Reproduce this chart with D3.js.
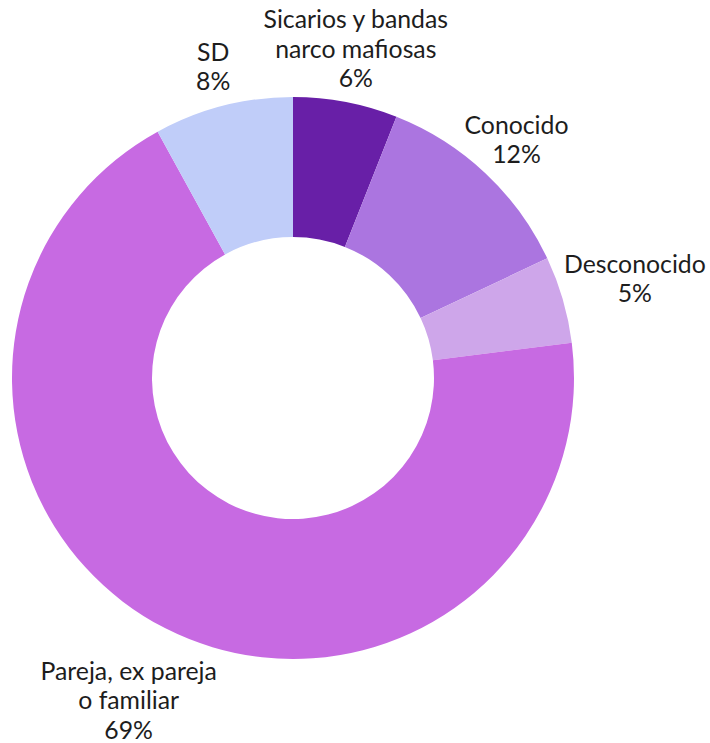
<!DOCTYPE html>
<html>
<head>
<meta charset="utf-8">
<script src="https://cdn.jsdelivr.net/npm/d3@7"></script>
<style>
  body { margin: 0; background: #fff; }
  svg { display: block; font-family: Lato, "Noto Sans", sans-serif; }
</style>
</head>
<body>
<svg width="710" height="743"></svg>
<script>
// chart data (clockwise from 12 o'clock)
const labels = [
    ["Sicarios y bandas", "narco mafiosas"],
    ["Conocido"],
    ["Desconocido"],
    ["Pareja, ex pareja", "o familiar"],
    ["SD"]
];
const values = [6, 12, 5, 69, 8];
const colors = ["#681fa7", "#ab75e0", "#cea6ea", "#c76ae2", "#c0cdf9"];

const width = 710, height = 743;
const cx = 293, cy = 378;
const outerR = 281, innerR = 141;
const fontSize = 24.8, lineH = 29.3, gap = 7.5;

const data = values.map((v, i) => ({ lines: labels[i], value: v, color: colors[i] }));

const svg = d3.select("svg");
const g = svg.append("g").attr("transform", `translate(${cx},${cy})`);

const pie = d3.pie().sort(null).value(d => d.value);
const arc = d3.arc().innerRadius(innerR).outerRadius(outerR);
const arcs = pie(data);

// slices
g.selectAll("path.slice")
    .data(arcs)
    .join("path")
    .attr("class", "slice")
    .attr("d", arc)
    .attr("fill", d => d.data.color);

// labels
const labelGroups = g.selectAll("g.label")
    .data(arcs)
    .join("g")
    .attr("class", "label");

labelGroups.each(function(d) {
    const lab = d3.select(this);
    const lines = d.data.lines.concat([`${d.data.value}%`]);
    const n = lines.length;
    const text = lab.append("text")
        .attr("text-anchor", "middle")
        .attr("fill", "#1d1d1d")
        .style("font-size", `${fontSize}px`);

    // one box per line, so short lines can sit closer to the ring
    const boxes = lines.map((l, i) => {
        const yc = (i - (n - 1) / 2) * lineH;
        const ts = text.append("tspan")
            .attr("x", 0)
            .attr("y", yc)
            .attr("dy", "0.35em")
            .text(l);
        const w = ts.node().getComputedTextLength();
        return { x0: -w / 2, x1: w / 2, y0: yc - lineH / 2, y1: yc + lineH / 2 };
    });

    const mid = (d.startAngle + d.endAngle) / 2;
    const ux = Math.sin(mid), uy = -Math.cos(mid);
    const clears = r => boxes.every(b => {
        const bx = r * ux, by = r * uy;
        const nx = Math.max(bx + b.x0, Math.min(0, bx + b.x1));
        const ny = Math.max(by + b.y0, Math.min(0, by + b.y1));
        return Math.hypot(nx, ny) >= outerR + gap;
    });
    let r = outerR;
    while (!clears(r) && r < outerR + 400) r += 0.5;
    lab.attr("transform", `translate(${r * ux},${r * uy})`);
});
</script>
</body>
</html>
